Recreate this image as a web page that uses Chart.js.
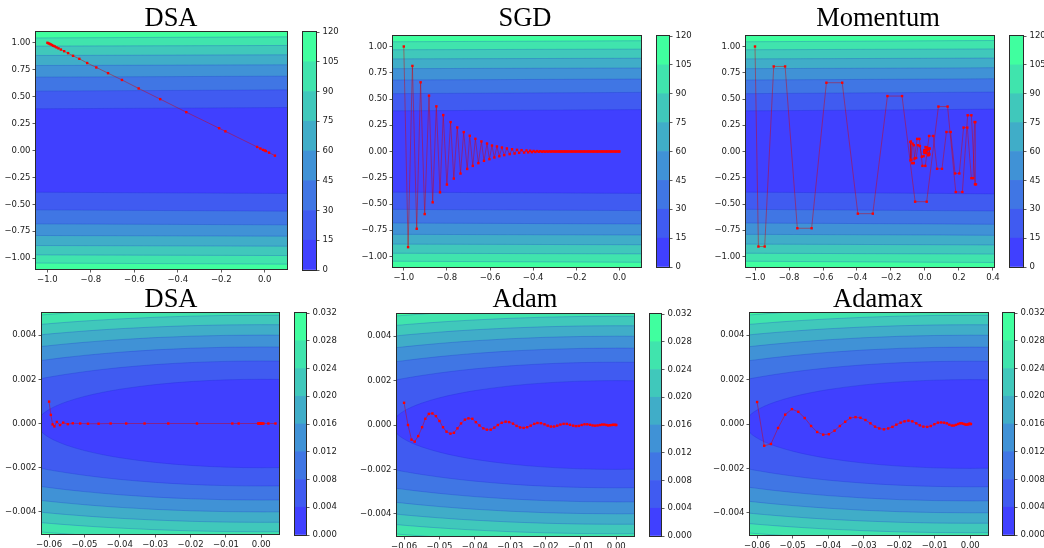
<!DOCTYPE html>
<html>
<head>
<meta charset="utf-8">
<script src="https://cdn.jsdelivr.net/npm/chart.js@4.4.1/dist/chart.umd.min.js"></script>
<style>
  body { margin: 0; background: #fff; }
  #fig { position: relative; width: 1044px; height: 548px; overflow: hidden; }
  #fig canvas { position: absolute; }
  .ttl { position: absolute; font: 26.5px 'Liberation Serif', 'Times New Roman', serif; line-height: 26.5px;
         transform: translateX(-50%); white-space: nowrap; color: #000; }
</style>
</head>
<body>
<div id="fig"></div>
<script>
'use strict';

/* ── levels, colours, ticks ─────────────────────────────────── */
const wideLevels = [0, 15, 30, 45, 60, 75, 90, 105, 120];
const zoomLevels = [0, 0.004, 0.008, 0.012, 0.016, 0.020, 0.024, 0.028, 0.032];
// winter colormap, alpha .75 over white
const bandColors = ['#4040ff', '#405bf1', '#4076e4', '#4092d6', '#40adc8', '#40c8bb', '#40e4ad', '#40ff9f'];

const wideYTicks = [-1, -0.75, -0.5, -0.25, 0, 0.25, 0.5, 0.75, 1];
const wideXTicks = [-1, -0.8, -0.6, -0.4, -0.2, 0];
const momXTicks  = [-1, -0.8, -0.6, -0.4, -0.2, 0, 0.2, 0.4];
const zoomYTicks = [-0.004, -0.002, 0, 0.002, 0.004];
const zoomXTicks = [-0.06, -0.05, -0.04, -0.03, -0.02, -0.01, 0];

/* ── contour band edges (upper half, the surface is symmetric in y) ── */
const wideContourX = [-1.06, 0.1, 0.42];
const wideBounds = [
  [0.387, 0.399, 0.404],   // 15
  [0.551, 0.563, 0.566],   // 30
  [0.681, 0.690, 0.693],   // 45
  [0.789, 0.795, 0.798],   // 60
  [0.882, 0.888, 0.890],   // 75
  [0.969, 0.975, 0.977],   // 90
  [1.045, 1.055, 1.057],   // 105
];
const zoomContourX = [-0.0625, -0.062, -0.061, -0.06, -0.058, -0.055, -0.05, -0.045, -0.04, -0.03, -0.02, -0.01, 0, 0.0055];
// y in units of 1e-3
const zoomBoundsMilli = [
  [0.306, 0.395, 0.528, 0.632, 0.797, 0.987, 1.225, 1.405, 1.549, 1.761, 1.897, 1.975, 2.000, 1.992],  // 0.004
  [2.023, 2.039, 2.069, 2.098, 2.153, 2.230, 2.345, 2.444, 2.530, 2.665, 2.757, 2.811, 2.828, 2.823],  // 0.008
  [2.845, 2.856, 2.877, 2.898, 2.939, 2.996, 3.082, 3.158, 3.225, 3.332, 3.406, 3.450, 3.464, 3.460],  // 0.012
  [3.478, 3.487, 3.504, 3.521, 3.555, 3.602, 3.674, 3.738, 3.795, 3.886, 3.950, 3.987, 4.000, 3.996],  // 0.016
  [4.012, 4.019, 4.035, 4.050, 4.079, 4.120, 4.183, 4.240, 4.290, 4.370, 4.427, 4.461, 4.472, 4.469],  // 0.020
  [4.483, 4.490, 4.503, 4.517, 4.543, 4.580, 4.637, 4.688, 4.733, 4.806, 4.858, 4.889, 4.899, 4.896],  // 0.024
  [4.909, 4.915, 4.927, 4.940, 4.963, 4.998, 5.050, 5.097, 5.138, 5.206, 5.254, 5.282, 5.292, 5.289],  // 0.028
];

/* ── optimiser trajectories [x, y] ─────────────────────────── */
const dsaWide = [
  [-1.000, 1.000], [-0.995, 0.995], [-0.990, 0.990], [-0.985, 0.985], [-0.979, 0.979], [-0.973, 0.972],
  [-0.966, 0.966], [-0.958, 0.957], [-0.949, 0.948], [-0.938, 0.937], [-0.923, 0.922], [-0.905, 0.904],
  [-0.882, 0.879], [-0.853, 0.851], [-0.817, 0.812], [-0.775, 0.771], [-0.721, 0.718], [-0.657, 0.655],
  [-0.580, 0.576], [-0.481, 0.477], [-0.361, 0.356], [-0.210, 0.207], [-0.181, 0.178], [-0.035, 0.033],
  [-0.020, 0.018], [-0.008, 0.006], [0.000, 0.000], [0.005, -0.005], [0.020, -0.020], [0.047, -0.048],
];
const sgdWide = [
  [-1.000, 1.000], [-0.980, -0.911], [-0.960, 0.815], [-0.940, -0.736], [-0.922, 0.659], [-0.903, -0.596],
  [-0.883, 0.532], [-0.866, -0.484], [-0.849, 0.430], [-0.832, -0.389], [-0.817, 0.347], [-0.800, -0.315],
  [-0.783, 0.280], [-0.768, -0.258], [-0.752, 0.229], [-0.737, -0.210], [-0.722, 0.185], [-0.706, -0.166],
  [-0.694, 0.150], [-0.680, -0.137], [-0.668, 0.121], [-0.654, -0.111], [-0.640, 0.096], [-0.628, -0.089],
  [-0.614, 0.076], [-0.603, -0.073], [-0.591, 0.057], [-0.580, -0.057], [-0.568, 0.048], [-0.557, -0.045],
  [-0.545, 0.038], [-0.534, -0.035], [-0.522, 0.029], [-0.509, -0.025], [-0.498, 0.022], [-0.486, -0.019],
  [-0.475, 0.016], [-0.465, -0.013], [-0.454, 0.013], [-0.442, -0.010], [-0.431, 0.010], [-0.423, -0.008],
  [-0.414, 0.007], [-0.406, -0.006], [-0.398, 0.005], [-0.390, -0.004], [-0.382, 0.004], [-0.374, -0.003],
  [-0.367, 0.003], [-0.359, -0.002], [-0.352, 0.002], [-0.345, -0.002], [-0.338, 0.001], [-0.331, -0.001],
  [-0.324, 0.001], [-0.318, -0.001], [-0.311, 0.001], [-0.305, 0], [-0.299, 0], [-0.293, 0], [-0.287, 0],
  [-0.281, 0], [-0.276, 0], [-0.270, 0], [-0.265, 0], [-0.259, 0], [-0.254, 0], [-0.249, 0], [-0.243, 0],
  [-0.237, 0], [-0.231, 0], [-0.225, 0], [-0.219, 0], [-0.213, 0], [-0.207, 0], [-0.201, 0], [-0.195, 0],
  [-0.189, 0], [-0.183, 0], [-0.177, 0], [-0.171, 0], [-0.165, 0], [-0.159, 0], [-0.153, 0], [-0.147, 0],
  [-0.141, 0], [-0.135, 0], [-0.129, 0], [-0.123, 0], [-0.117, 0], [-0.111, 0], [-0.105, 0], [-0.099, 0],
  [-0.093, 0], [-0.087, 0], [-0.081, 0], [-0.075, 0], [-0.069, 0], [-0.063, 0], [-0.057, 0], [-0.051, 0],
  [-0.045, 0], [-0.039, 0], [-0.033, 0], [-0.027, 0], [-0.021, 0], [-0.015, 0], [-0.009, 0], [-0.003, 0],
  [0.000, 0],
];
const momentumWide = [
  [-1.000, 1.000],
  [-0.980, -0.905], [-0.943, -0.905], [-0.890, 0.810], [-0.823, 0.810], [-0.751, -0.731], [-0.667, -0.731],
  [-0.580, 0.655], [-0.487, 0.655], [-0.395, -0.592], [-0.307, -0.592], [-0.221, 0.528], [-0.135, 0.528],
  [-0.058, -0.478], [0.010, -0.478], [0.079, 0.428], [0.133, 0.428], [0.181, -0.386], [0.220, -0.386],
  [0.251, 0.345], [0.273, 0.345], [0.294, -0.313], [0.300, -0.313], [0.296, 0.280], [0.292, 0.280],
  [0.283, -0.254], [0.273, -0.254], [0.249, 0.228], [0.227, 0.228], [0.202, -0.209], [0.177, -0.209],
  [0.151, 0.186], [0.126, 0.186], [0.100, -0.165], [0.071, -0.165], [0.049, 0.148], [0.024, 0.148],
  [0.002, -0.137], [-0.015, -0.137], [-0.033, 0.120], [-0.046, 0.120], [-0.066, -0.111], [-0.075, -0.111],
  [-0.083, 0.095], [-0.086, 0.090], [-0.085, -0.085], [-0.081, -0.078], [-0.073, 0.075], [-0.066, 0.060],
  [-0.062, -0.068], [-0.052, -0.062], [-0.041, 0.060], [-0.030, 0.052], [-0.019, -0.050], [-0.008, -0.045],
  [0.003, 0.042], [0.012, 0.038], [0.019, -0.036], [0.024, -0.032], [0.026, 0.030], [0.027, 0.026],
  [0.025, -0.024], [0.021, -0.021], [0.016, 0.019], [0.011, 0.016], [0.006, -0.015], [0.002, -0.012],
  [-0.002, 0.011], [-0.004, 0.009], [-0.005, -0.008], [-0.005, -0.006], [-0.004, 0.005], [-0.002, 0.004],
  [0.000, -0.003], [0.001, -0.002], [0.001, 0.001], [0.001, 0.000],
];
// y in units of 1e-3
const dsaZoom = [
  [-0.0600, 0.99], [-0.0595, 0.39], [-0.0590, -0.04], [-0.0585, -0.13], [-0.0578, 0.07], [-0.0569, -0.07],
  [-0.0560, 0.04], [-0.0547, -0.03], [-0.0533, 0.01], [-0.0512, 0.00], [-0.0490, -0.01], [-0.0460, -0.01],
  [-0.0426, 0.00], [-0.0382, 0.00], [-0.0330, 0.00], [-0.0263, 0.00], [-0.0182, 0.00], [-0.0082, 0.00],
  [-0.0064, 0.00], [-0.0009, 0.00], [-0.0007, 0.00], [-0.0004, 0.00], [-0.0002, 0.00], [0.0000, 0.00],
  [0.0003, 0.00], [0.0006, 0.00], [0.0020, 0.00], [0.0040, 0.00],
];
const adamZoom = [
  [-0.0600, 1.00], [-0.0589, 0.00], [-0.0579, -0.66], [-0.0570, -0.75], [-0.0560, -0.50], [-0.0549, -0.10],
  [-0.0540, 0.28], [-0.0530, 0.50], [-0.0520, 0.52], [-0.0510, 0.40], [-0.0500, 0.18], [-0.0490, -0.10],
  [-0.0480, -0.30], [-0.0469, -0.39], [-0.0459, -0.35], [-0.0449, -0.15], [-0.0439, 0.07], [-0.0428, 0.24],
  [-0.0418, 0.30], [-0.0407, 0.28], [-0.0397, 0.13], [-0.0387, -0.02], [-0.0376, -0.15], [-0.0366, -0.21],
  [-0.0355, -0.21], [-0.0345, -0.12], [-0.0335, 0.00], [-0.0324, 0.10], [-0.0313, 0.15], [-0.0303, 0.13],
  [-0.0292, 0.06], [-0.0282, -0.04], [-0.0272, -0.11], [-0.0262, -0.13], [-0.0252, -0.10], [-0.0242, -0.03],
  [-0.0232, 0.05], [-0.0223, 0.09], [-0.0213, 0.08], [-0.0203, 0.03], [-0.0194, -0.03], [-0.0185, -0.07],
  [-0.0176, -0.07], [-0.0167, -0.03], [-0.0158, 0.02], [-0.0149, 0.05], [-0.0140, 0.05], [-0.0131, 0.01],
  [-0.0122, -0.03], [-0.0114, -0.05], [-0.0106, -0.04], [-0.0098, 0.00], [-0.0090, 0.03], [-0.0082, 0.03],
  [-0.0074, 0.01], [-0.0067, -0.02], [-0.0060, -0.03], [-0.0053, -0.02], [-0.0046, 0.00], [-0.0040, 0.02],
  [-0.0034, 0.02], [-0.0028, 0.00], [-0.0023, -0.02], [-0.0018, -0.01], [-0.0013, 0.00], [-0.0009, 0.01],
  [-0.0005, 0.01], [-0.0002, 0.00], [0.0000, 0.00],
];
const adamaxZoom = [
  [-0.0600, 0.99], [-0.0580, -0.98], [-0.0561, -0.90], [-0.0541, -0.18], [-0.0521, 0.42], [-0.0502, 0.67],
  [-0.0484, 0.55], [-0.0466, 0.27], [-0.0448, -0.09], [-0.0431, -0.36], [-0.0414, -0.48], [-0.0398, -0.46],
  [-0.0382, -0.30], [-0.0367, -0.09], [-0.0352, 0.10], [-0.0338, 0.27], [-0.0323, 0.31], [-0.0309, 0.28],
  [-0.0295, 0.18], [-0.0281, 0.03], [-0.0268, -0.12], [-0.0256, -0.20], [-0.0243, -0.24], [-0.0231, -0.20],
  [-0.0219, -0.13], [-0.0208, -0.03], [-0.0196, 0.06], [-0.0185, 0.12], [-0.0174, 0.15], [-0.0163, 0.12],
  [-0.0152, 0.03], [-0.0142, -0.06], [-0.0132, -0.12], [-0.0121, -0.13], [-0.0111, -0.09], [-0.0101, -0.01],
  [-0.0091, 0.06], [-0.0082, 0.07], [-0.0074, 0.06], [-0.0066, 0.03], [-0.0059, -0.03], [-0.0052, -0.07],
  [-0.0046, -0.07], [-0.0040, -0.04], [-0.0034, 0.00], [-0.0029, 0.03], [-0.0024, 0.03], [-0.0019, 0.01],
  [-0.0015, -0.02], [-0.0011, -0.03], [-0.0007, -0.02], [-0.0004, 0.00], [-0.0002, 0.01], [0.0000, 0.00],
  [0.0002, 0.00],
];

/* ── helpers ───────────────────────────────────────────────── */
const fig = document.getElementById('fig');
const FONT = { family: 'DejaVu Sans', size: 8.5 };
const SEAM = 'rgba(20,30,200,0.28)';

const fmt = (v, d) => (Math.abs(v) < 1e-12 ? 0 : v).toFixed(d).replace('-', '\u2212');

// axes box drawn over the data, like the spines
const frame = {
  id: 'frame',
  afterDatasetsDraw(chart) {
    const { ctx, chartArea: a } = chart;
    ctx.save();
    ctx.strokeStyle = '#2a2a2a';
    ctx.lineWidth = 1;
    ctx.strokeRect(a.left - 0.5, a.top - 0.5, a.right - a.left + 1, a.bottom - a.top + 1);
    ctx.restore();
  },
};

function addCanvas(left, top, w, h) {
  const c = document.createElement('canvas');
  c.width = w; c.height = h;
  c.style.left = left + 'px';
  c.style.top = top + 'px';
  fig.appendChild(c);
  return c;
}

function addTitle(text, cx, top) {
  const d = document.createElement('div');
  d.className = 'ttl';
  d.textContent = text;
  d.style.left = cx + 'px';
  d.style.top = top + 'px';
  fig.appendChild(d);
}

function axis(min, max, ticks, dec, pad, afterFit, extra) {
  return Object.assign({
    type: 'linear', min, max,
    border: { display: false },
    grid: { drawOnChartArea: false, drawTicks: true, tickLength: 3.5, tickColor: '#333', tickWidth: 0.8 },
    ticks: { color: '#1a1a1a', font: FONT, padding: pad, autoSkip: false, maxRotation: 0, callback: v => fmt(v, dec) },
    afterBuildTicks: s => { s.ticks = ticks.map(value => ({ value })); },
    afterFit,
  }, extra || {});
}

function contourPanel(p) {
  const YW = p.yw, XH = 22, PT = 4, PR = 14;
  const [l, t, r, b] = p.plot;
  const cv = addCanvas(l - YW, t - PT, YW + (r - l) + PR, PT + (b - t) + XH);

  const datasets = [{
    data: p.path.map(([x, y]) => ({ x, y: y * p.ys })),
    borderColor: 'rgba(215,0,0,0.5)', borderWidth: 0.9,
    pointStyle: 'rect', pointRadius: 1.7, pointBackgroundColor: '#ff0000', pointBorderWidth: 0,
    fill: false, order: 0,
  }];
  // nested regions |y| < edge(level), outermost first, each filled with the band below that level
  bandColors.forEach((c, k) => {
    const inner = k < p.bounds.length;
    const up = inner ? p.cx.map((x, i) => ({ x, y: p.bounds[k][i] * p.ys }))
                     : p.cx.map(x => ({ x, y: p.yr[1] }));
    const lo = up.map(pt => ({ x: pt.x, y: -pt.y }));
    const line = { borderColor: SEAM, borderWidth: inner ? 0.8 : 0, pointRadius: 0, cubicInterpolationMode: 'monotone' };
    datasets.push(Object.assign({ data: up, fill: '+1', backgroundColor: c, order: 11 + 2 * k }, line));
    datasets.push(Object.assign({ data: lo, fill: false, order: 10 + 2 * k }, line));
  });

  new Chart(cv, {
    type: 'line',
    data: { datasets },
    options: {
      responsive: false, animation: false, events: [],
      layout: { padding: { left: 0, top: PT, right: PR, bottom: 0 } },
      plugins: { legend: { display: false }, tooltip: { enabled: false } },
      scales: {
        x: axis(p.xr[0], p.xr[1], p.xt, p.xd, 2, s => { s.height = XH; s.paddingLeft = 0; s.paddingRight = 0; }),
        y: axis(p.yr[0], p.yr[1], p.yt, p.yd, 2, s => { s.width = YW; s.paddingTop = 0; s.paddingBottom = 0; }),
      },
    },
    plugins: [frame],
  });
}

function colorbarPanel(rect, levels, dec) {
  const YW = 42, PV = 8;
  const [l, t, r, b] = rect;
  const cv = addCanvas(l - 1, t - PV, 1 + (r - l) + YW, 2 * PV + (b - t));
  new Chart(cv, {
    type: 'bar',
    data: {
      labels: [''],
      datasets: bandColors.map((c, k) => ({
        data: [[levels[k], levels[k + 1]]], backgroundColor: c, borderWidth: 0,
        grouped: false, barPercentage: 1, categoryPercentage: 1,
      })),
    },
    options: {
      responsive: false, animation: false, events: [],
      layout: { padding: { left: 1, top: PV, right: 0, bottom: PV } },
      plugins: { legend: { display: false }, tooltip: { enabled: false } },
      scales: {
        x: { display: false },
        y: axis(levels[0], levels[levels.length - 1], levels, dec, 3,
          s => { s.width = YW; s.paddingTop = 0; s.paddingBottom = 0; }, { position: 'right' }),
      },
    },
    plugins: [frame],
  });
}

/* ── figure ────────────────────────────────────────────────── */
const wide = { cx: wideContourX, bounds: wideBounds, ys: 1, yr: [-1.1, 1.1], yt: wideYTicks, yd: 2, xd: 1 };
const zoom = { cx: zoomContourX, bounds: zoomBoundsMilli, ys: 0.001, yr: [-0.005, 0.005], yt: zoomYTicks, yd: 3, xd: 2,
               xr: [-0.062, 0.005], xt: zoomXTicks, yw: 42 };

contourPanel(Object.assign({}, wide, { plot: [36, 32, 287, 269], xr: [-1.0525, 0.1025], xt: wideXTicks, path: dsaWide, yw: 36 }));
contourPanel(Object.assign({}, wide, { plot: [393, 36, 641, 267], xr: [-1.05, 0.1], xt: wideXTicks, path: sgdWide, yw: 42 }));
contourPanel(Object.assign({}, wide, { plot: [746, 36, 994, 267], xr: [-1.053, 0.406], xt: momXTicks, path: momentumWide, yw: 42 }));
contourPanel(Object.assign({}, zoom, { plot: [42, 313, 279, 534], path: dsaZoom }));
contourPanel(Object.assign({}, zoom, { plot: [397, 314, 634, 536], path: adamZoom }));
contourPanel(Object.assign({}, zoom, { plot: [750, 313, 988, 535], path: adamaxZoom }));

colorbarPanel([303, 32, 316, 270], wideLevels, 0);
colorbarPanel([657, 36, 669, 267], wideLevels, 0);
colorbarPanel([1010, 36, 1023, 267], wideLevels, 0);
colorbarPanel([295, 313, 306, 535], zoomLevels, 3);
colorbarPanel([650, 314, 661, 536], zoomLevels, 3);
colorbarPanel([1003, 313, 1014, 535], zoomLevels, 3);

addTitle('DSA', 171, 3.8);
addTitle('SGD', 525, 3.8);
addTitle('Momentum', 878, 3.8);
addTitle('DSA', 171, 284.8);
addTitle('Adam', 525, 284.8);
addTitle('Adamax', 878, 284.8);
</script>
</body>
</html>
